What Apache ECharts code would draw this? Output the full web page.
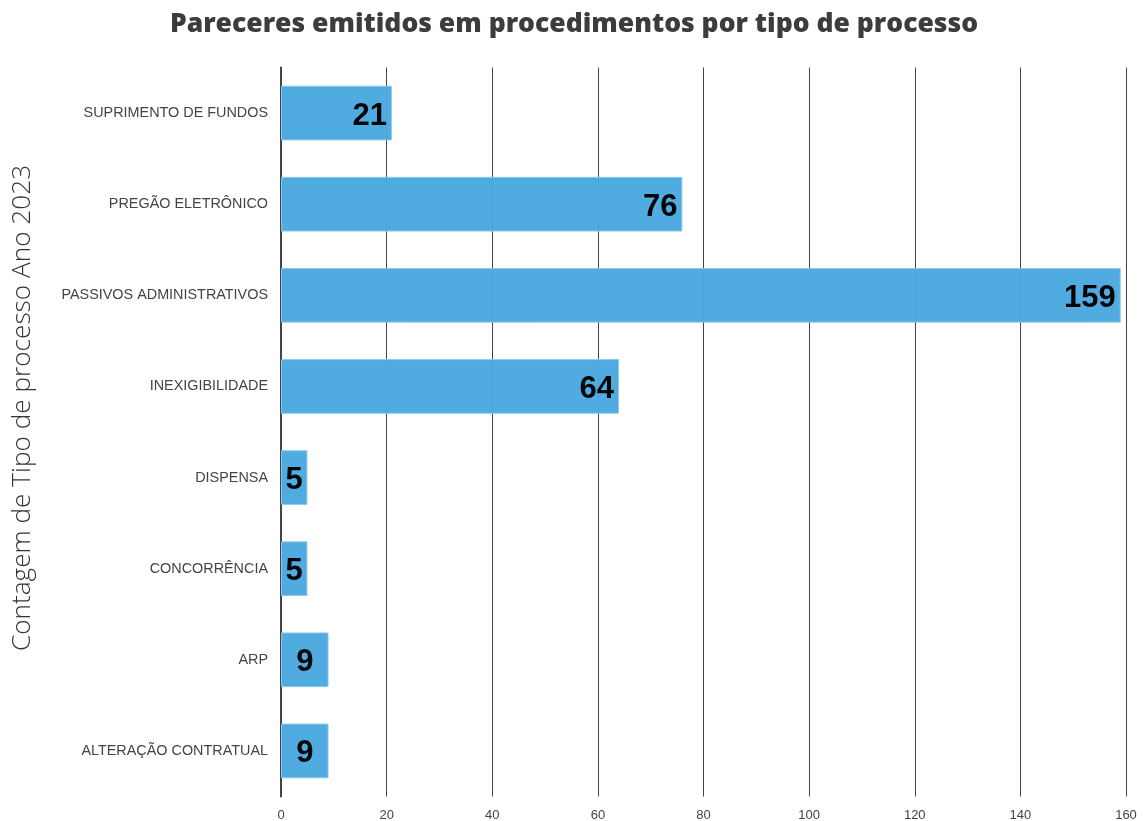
<!DOCTYPE html>
<html>
<head>
<meta charset="utf-8">
<script src="https://cdn.jsdelivr.net/npm/echarts@6/dist/echarts.min.js"></script>
<style>html,body{margin:0;padding:0;background:#fff}#c{width:1148px;height:821px}</style>
</head>
<body>
<div id="c"></div>
<script>
const categories = ['SUPRIMENTO DE FUNDOS','PREGÃO ELETRÔNICO','PASSIVOS ADMINISTRATIVOS','INEXIGIBILIDADE','DISPENSA','CONCORRÊNCIA','ARP','ALTERAÇÃO CONTRATUAL'];
const values = [21, 76, 159, 64, 5, 5, 9, 9];
const titleText = 'Pareceres emitidos em procedimentos por tipo de processo';
const yAxisTitle = 'Contagem de Tipo de processo Ano 2023';

const chart = echarts.init(document.getElementById('c'));
const data = values.map(v => ({
  value: v,
  label: { position: v < 10 ? 'inside' : 'insideRight' }
}));
chart.setOption({
  animation: false,
  title: {
    text: titleText, left: 'center', top: 6,
    textStyle: { fontFamily: 'Open Sans', fontWeight: 800, fontSize: 26.5, color: '#3c3c3c' }
  },
  grid: { left: 281, right: 22, top: 67.5, bottom: 24.5, containLabel: false, outerBoundsMode: 'none' },
  xAxis: {
    type: 'value', min: 0, max: 160, interval: 20,
    axisLine: { show: false }, axisTick: { show: false },
    splitLine: { show: true, lineStyle: { color: '#444', width: 1 } },
    axisLabel: { margin: 12, fontFamily: 'Liberation Sans', fontSize: 13, color: '#444' }
  },
  yAxis: {
    type: 'category', data: categories, inverse: true,
    axisLine: { show: true, lineStyle: { color: '#444', width: 2 } },
    axisTick: { show: false },
    axisLabel: { margin: 13, fontFamily: 'Liberation Sans', fontSize: 14.4, color: '#444' },
    name: yAxisTitle, nameLocation: 'middle', nameRotate: 90, nameGap: 245,
    nameTextStyle: { fontFamily: 'Open Sans', fontWeight: 300, fontSize: 26.2, color: '#333', padding: [0, 0, 0, 48] }
  },
  series: [{
    type: 'bar', data: data, barCategoryGap: '40%',
    itemStyle: { color: '#4aa9df', opacity: 0.97, borderColor: '#8cc8ec', borderWidth: 1 },
    label: {
      show: true, distance: 5, offset: [0, 3], fontFamily: 'Liberation Sans', fontWeight: 'bold', fontSize: 31, color: '#000'
    }
  }]
});
</script>
</body>
</html>
